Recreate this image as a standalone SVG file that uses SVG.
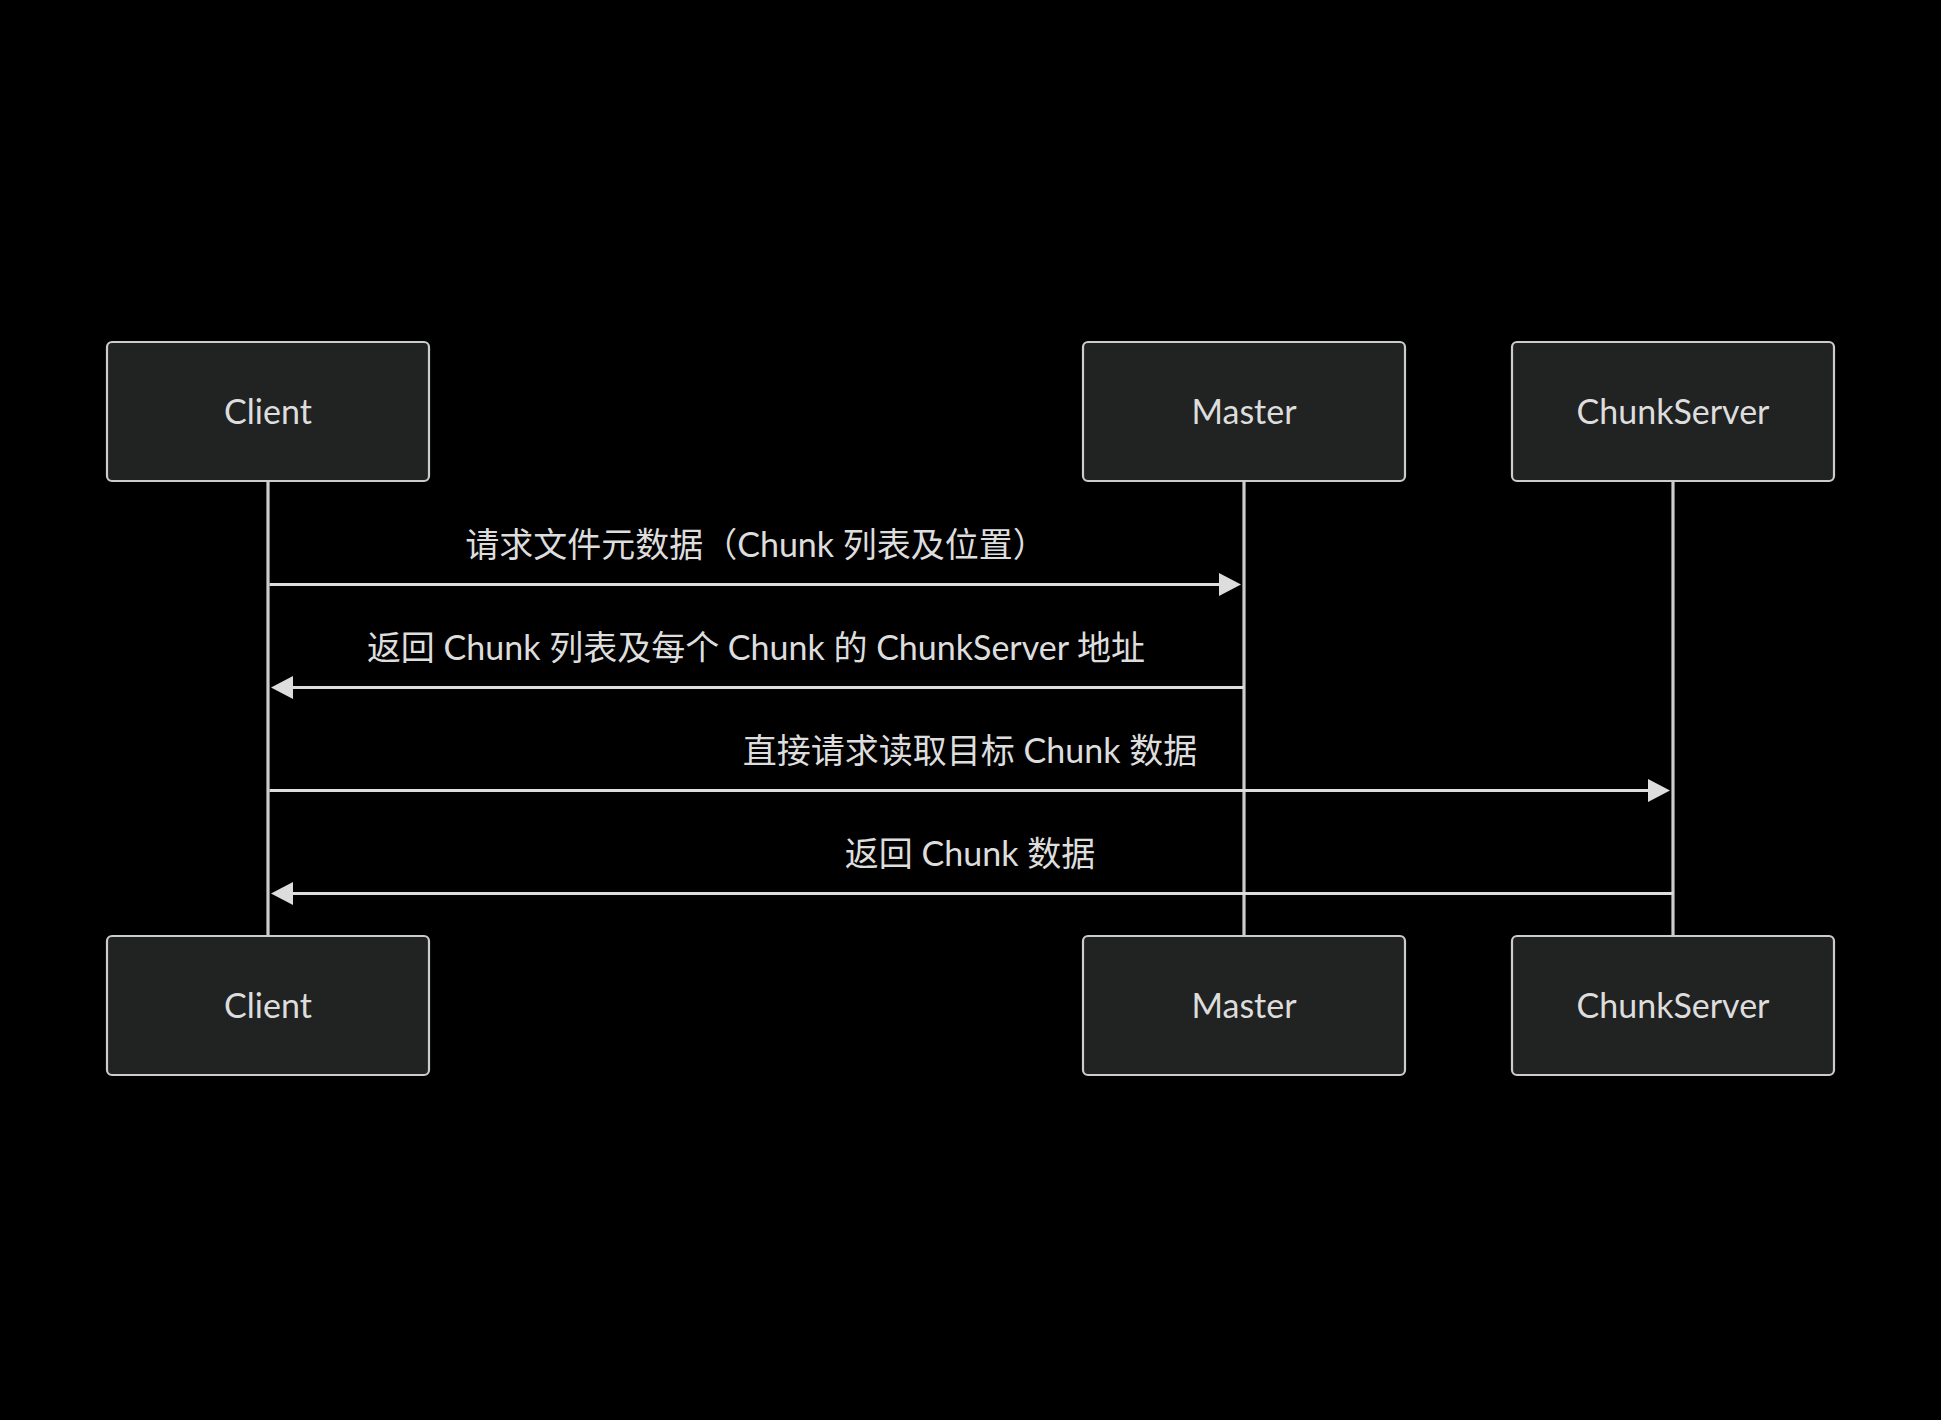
<svg xmlns="http://www.w3.org/2000/svg" width="1941" height="1420" viewBox="0 0 1941 1420">
<defs>
<style>
.actor rect{fill:#212222;stroke:#cccccc;stroke-width:2.2}
.actor text{fill:#dddddd;font-family:Lato,"Noto Sans","Noto Sans CJK SC",sans-serif;font-size:34px;text-anchor:middle;dominant-baseline:central}
.life{stroke:#cccccc;stroke-width:3.2}
.msg{stroke:#dddddd;stroke-width:3;fill:none}
.lbl{fill:#dddddd;font-family:Lato,"Noto Sans CJK SC",sans-serif;font-size:34px;text-anchor:middle;dominant-baseline:central}
</style>
<marker id="ah" markerUnits="userSpaceOnUse" markerWidth="24" markerHeight="24" refX="11" refY="11.5" orient="auto">
<path d="M0,0 L22,11.5 L0,23 z" fill="#dddddd"/>
</marker>
</defs>
<rect width="1941" height="1420" fill="#000000"/>
<g id="lifelines">
<line class="life" x1="268" y1="481" x2="268" y2="936"/>
<line class="life" x1="1244" y1="481" x2="1244" y2="936"/>
<line class="life" x1="1673" y1="481" x2="1673" y2="936"/>
</g>
<g id="actor-client-top" class="actor"><rect x="107" y="342" width="322" height="139" rx="5"/><text x="268" y="410">Client</text></g>
<g id="actor-master-top" class="actor"><rect x="1083" y="342" width="322" height="139" rx="5"/><text x="1244" y="410">Master</text></g>
<g id="actor-chunkserver-top" class="actor"><rect x="1512" y="342" width="322" height="139" rx="5"/><text x="1673" y="410">ChunkServer</text></g>
<g id="actor-client-bottom" class="actor"><rect x="107" y="936" width="322" height="139" rx="5"/><text x="268" y="1004">Client</text></g>
<g id="actor-master-bottom" class="actor"><rect x="1083" y="936" width="322" height="139" rx="5"/><text x="1244" y="1004">Master</text></g>
<g id="actor-chunkserver-bottom" class="actor"><rect x="1512" y="936" width="322" height="139" rx="5"/><text x="1673" y="1004">ChunkServer</text></g>
<g id="connectors">
<line class="msg" x1="269.5" y1="584.5" x2="1230" y2="584.5" marker-end="url(#ah)"/>
<line class="msg" x1="1244" y1="687.5" x2="282" y2="687.5" marker-end="url(#ah)"/>
<line class="msg" x1="269.5" y1="790.5" x2="1659" y2="790.5" marker-end="url(#ah)"/>
<line class="msg" x1="1673" y1="893.5" x2="282" y2="893.5" marker-end="url(#ah)"/>
<text class="lbl" x="756" y="543">请求文件元数据（Chunk 列表及位置）</text>
<text class="lbl" x="756" y="646">返回 Chunk 列表及每个 Chunk 的 ChunkServer 地址</text>
<text class="lbl" x="970" y="749">直接请求读取目标 Chunk 数据</text>
<text class="lbl" x="970" y="852">返回 Chunk 数据</text>
</g>
</svg>
